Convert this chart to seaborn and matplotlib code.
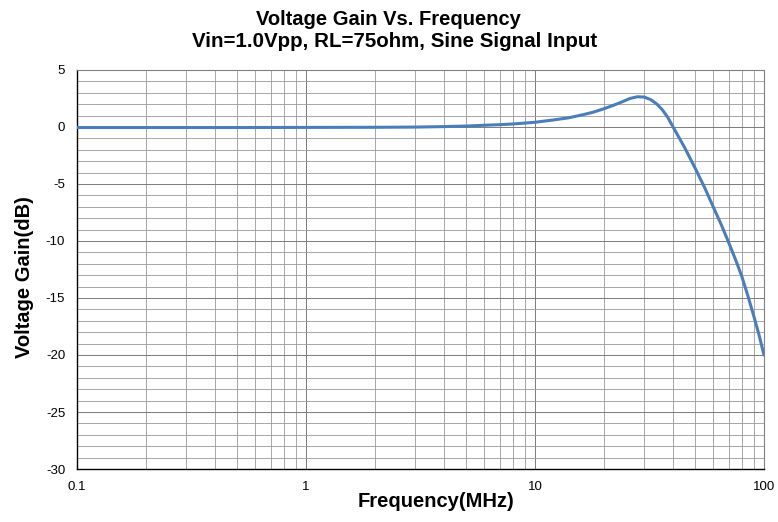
import numpy as np
import pandas as pd
import matplotlib
matplotlib.use('Agg')
import matplotlib.pyplot as plt
import seaborn as sns
from matplotlib.ticker import FixedLocator, FixedFormatter, MultipleLocator, NullFormatter

# Values
freq_mhz = [0.1, 0.5, 1, 2, 3, 4, 5, 6, 7, 8, 10, 12, 14, 16, 18, 20, 22, 24,
            26, 28, 30, 32, 34, 36, 38, 40, 45, 50, 55, 60, 65, 70, 75, 80,
            85, 90, 95, 100]
gain_db = [-0.05, -0.05, -0.04, -0.03, -0.01, 0.03, 0.08, 0.15, 0.2, 0.26,
           0.41, 0.61, 0.8, 1.05, 1.3, 1.6, 1.9, 2.2, 2.5, 2.65, 2.62, 2.4,
           2.02, 1.5, 0.84, 0.03, -1.8, -3.6, -5.3, -7.0, -8.55, -10.1, -11.6,
           -13.1, -14.8, -16.5, -18.2, -20.0]
x_ticks = [0.1, 1, 10, 100]
x_tick_labels = ['0.1', '1', '10', '100']
title_lines = ['Voltage Gain Vs. Frequency',
               'Vin=1.0Vpp, RL=75ohm, Sine Signal Input']

df = pd.DataFrame({'freq': freq_mhz, 'gain': gain_db})

sns.set_style('white')
plt.rcParams['font.family'] = ['Liberation Sans', 'DejaVu Sans']
plt.rcParams['axes.unicode_minus'] = False
plt.rcParams['text.color'] = 'black'
plt.rcParams['axes.labelcolor'] = 'black'
plt.rcParams['xtick.color'] = 'black'
plt.rcParams['ytick.color'] = 'black'

fig = plt.figure(figsize=(7.78, 5.22), dpi=100)
ax = fig.add_axes([0.099, 0.1015, 0.883, 0.7645])

sns.lineplot(data=df, x='freq', y='gain', ax=ax, color='#4a7ebb',
             linewidth=2.2, estimator=None, sort=True, zorder=3)

ax.set_xscale('log')
ax.set_xlim(0.1, 100)
ax.set_ylim(-30, 5)

ax.xaxis.set_major_locator(FixedLocator(x_ticks))
ax.xaxis.set_major_formatter(FixedFormatter(x_tick_labels))
ax.xaxis.set_minor_locator(FixedLocator(
    [m * d for d in (0.1, 1, 10) for m in range(2, 10)]))
ax.xaxis.set_minor_formatter(NullFormatter())
ax.yaxis.set_major_locator(MultipleLocator(5))
ax.yaxis.set_minor_locator(MultipleLocator(1))

ax.grid(which='major', color='#7a7a7a', linewidth=0.7)
ax.grid(which='minor', color='#999999', linewidth=0.6)
ax.set_axisbelow(True)
ax.tick_params(which='both', length=0, labelsize=9.5, pad=8.5)

for side in ('left', 'bottom'):
    ax.spines[side].set_color('black')
    ax.spines[side].set_linewidth(1.0)
for side in ('top', 'right'):
    ax.spines[side].set_color('#808080')
    ax.spines[side].set_linewidth(0.8)

ax.set_xlabel('Frequency(MHz)', fontsize=14.5, fontweight='bold')
ax.xaxis.set_label_coords(0.522, -0.058)
ax.set_ylabel('Voltage Gain(dB)', fontsize=14.5, fontweight='bold')
ax.yaxis.set_label_coords(-0.063, 0.48)

# two-line title centred on the figure, as in the reference
fig.text(0.499, 1 - 25 / 522, title_lines[0], ha='center', va='baseline',
         fontsize=14.5, fontweight='bold')
fig.text(0.507, 1 - 46.7 / 522, title_lines[1], ha='center', va='baseline',
         fontsize=14.8, fontweight='bold')

fig.savefig('out.png', dpi=100)
